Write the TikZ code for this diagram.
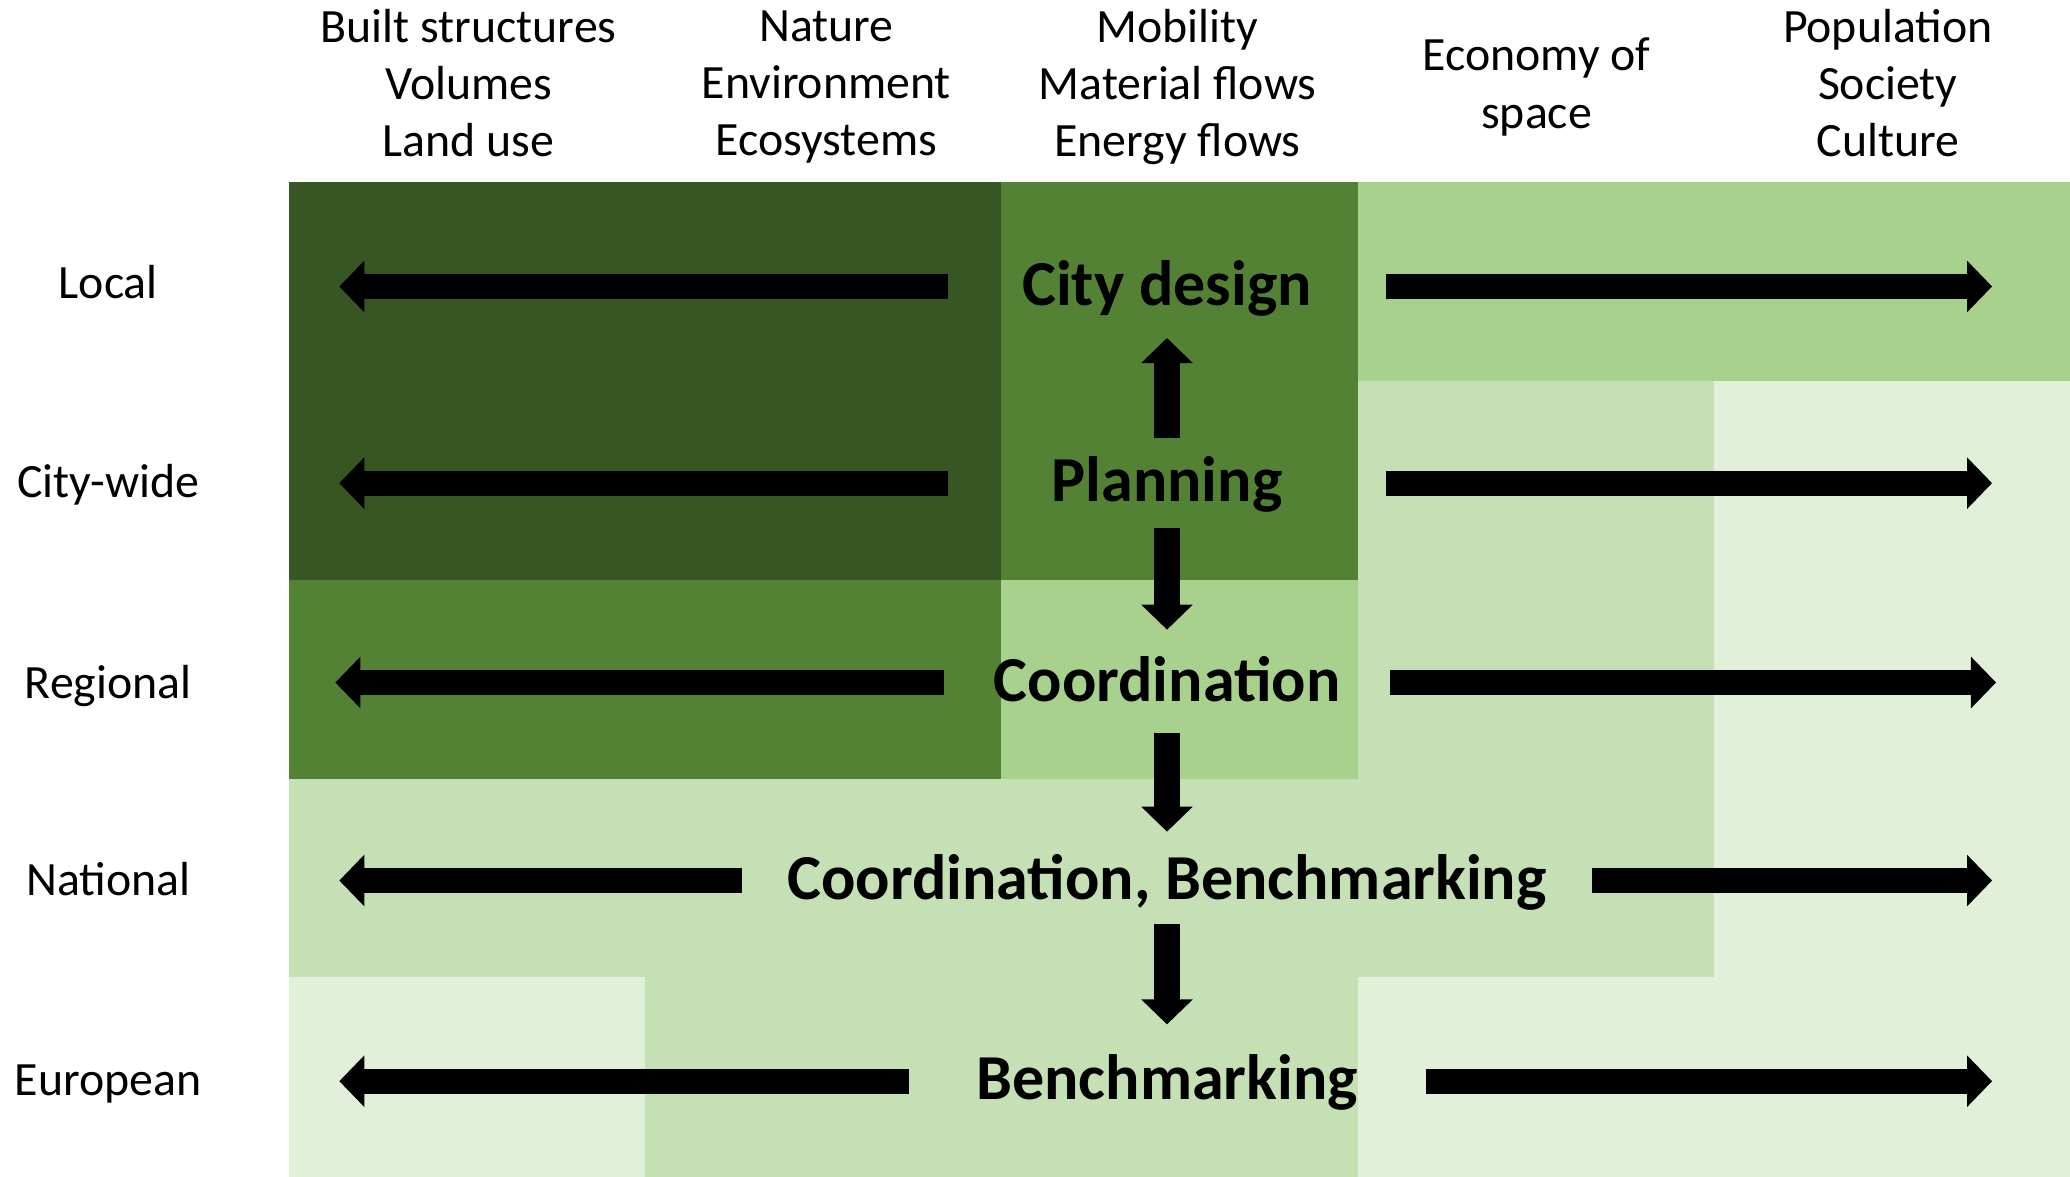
\documentclass[tikz,border=0pt]{standalone}
\usepackage{fontspec}
\setmainfont{Carlito}
\usetikzlibrary{arrows.meta}
\definecolor{greenD}{HTML}{375623}
\definecolor{greenM}{HTML}{548235}
\definecolor{greenL}{HTML}{A9D18E}
\definecolor{greenXL}{HTML}{C5E0B4}
\definecolor{greenXXL}{HTML}{E2F0D9}
\tikzstyle{fatarrow} = [line width=0.19cm, -{Triangle[length=0.19cm,width=0.38cm]}]
\tikzstyle{head} = [align=center, font=\fontsize{10.3}{12.35}\selectfont]
\tikzstyle{level} = [font=\fontsize{10.3}{12.35}\selectfont, text height=7.7pt, text depth=2.6pt]
\tikzstyle{hub} = [font=\fontsize{13.8}{16}\selectfont\bfseries, inner sep=0pt,
    text height=11.5pt, text depth=3.5pt]
\begin{document}
\begin{tikzpicture}[x=0.01cm,y=-0.01cm]
  \useasboundingbox (0,0) rectangle (1568,891);

  % grid of cells, one row of colours per level
  \foreach \cells [count=\i from 0] in {{greenD,greenD,greenM,greenL,greenL},
      {greenD,greenD,greenM,greenXL,greenXXL},
      {greenM,greenM,greenL,greenXL,greenXXL},
      {greenXL,greenXL,greenXL,greenXL,greenXXL},
      {greenXXL,greenXL,greenXL,greenXXL,greenXXL}}
    \foreach \c [count=\j from 0] in \cells
      \fill[\c] (219+269.8*\j,138+150.6*\i) rectangle +(270.8,151.6);

  % column heads
  \node[head] (hBuilt)  at (355,63)  {Built structures\\Volumes\\Land use};
  \node[head] (hNature) at (626,66)  {Nature\\Environment\\Ecosystems};
  \node[head] (hMob)    at (892,66)  {Mobility\\Material flows\\Energy flows};
  \node[head] (hEcon)   at (1164,66) {Economy of\\space};
  \node[head] (hPop)    at (1430,63) {Population\\Society\\Culture};

  % levels
  \node[level] (lLocal)    at (82,217) {Local};
  \node[level] (lCity)     at (82,368) {City-wide};
  \node[level] (lRegional) at (82,520) {Regional};
  \node[level] (lNational) at (82,669) {National};
  \node[level] (lEuropean) at (82,821) {European};

  % governance steps
  \node[hub,minimum width=3.30cm] (design) at (884,217) {City design};
  \node[hub,minimum width=3.30cm] (plan)   at (884,366) {Planning};
  \node[hub,minimum width=3.36cm] (coord)  at (884,517) {Coordination};
  \node[hub,minimum width=6.42cm] (cobench) at (884,667) {Coordination, Benchmarking};
  \node[hub,minimum width=3.90cm] (bench)  at (884,819) {Benchmarking};

  \coordinate (l1) at (257,217); \coordinate (r1) at (1509,217);
  \coordinate (l2) at (257,366); \coordinate (r2) at (1509,366);
  \coordinate (l3) at (254,517); \coordinate (r3) at (1512,517);
  \coordinate (l4) at (257,667); \coordinate (r4) at (1509,667);
  \coordinate (l5) at (257,819); \coordinate (r5) at (1509,819);

  \draw[fatarrow] (design.west) -- (l1);
  \draw[fatarrow] (design.east) -- (r1);
  \draw[fatarrow] (plan.west) -- (l2);
  \draw[fatarrow] (plan.east) -- (r2);
  \draw[fatarrow] (coord.west) -- (l3);
  \draw[fatarrow] (coord.east) -- (r3);
  \draw[fatarrow] (cobench.west) -- (l4);
  \draw[fatarrow] (cobench.east) -- (r4);
  \draw[fatarrow] (bench.west) -- (l5);
  \draw[fatarrow] (bench.east) -- (r5);

  \draw[fatarrow,shorten <=0.34cm,shorten >=0.39cm] (plan.center) -- (design.center);
  \draw[fatarrow,shorten <=0.34cm,shorten >=0.40cm] (plan.center) -- (coord.center);
  \draw[fatarrow,shorten <=0.38cm,shorten >=0.37cm] (coord.center) -- (cobench.center);
  \draw[fatarrow,shorten <=0.33cm,shorten >=0.43cm] (cobench.center) -- (bench.center);
\end{tikzpicture}
\end{document}
